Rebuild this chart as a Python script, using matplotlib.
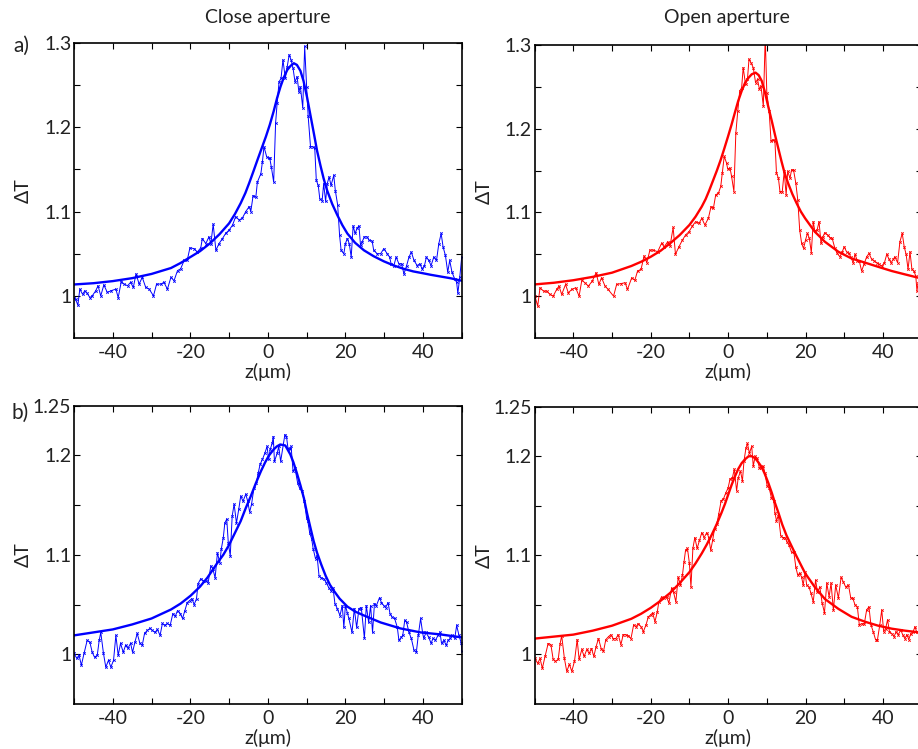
import matplotlib
matplotlib.use("Agg")
import matplotlib.pyplot as plt
from matplotlib.ticker import FixedLocator, FixedFormatter

plt.rcParams['font.family'] = ['Lato', 'DejaVu Sans']

# ---------------- data: a) close aperture (top-left) ----------------
z_tl = [-50.0, -49.6, -49.0, -48.5, -47.8, -47.2, -46.6, -45.9, -45.3, -44.4, -43.8, -43.1, -42.3, -41.4,
        -40.5, -39.2, -38.6, -37.8, -37.1, -36.2, -35.4, -34.7, -34.0, -33.2, -32.4, -31.5, -30.6, -29.5,
        -28.7, -27.6, -26.8, -25.9, -25.0, -24.2, -23.3, -22.5, -21.6, -20.8, -20.1, -19.0, -18.2, -17.3,
        -16.9, -16.0, -15.2, -14.7, -14.1, -13.4, -12.6, -11.7, -10.9, -10.0, -9.1, -8.3, -7.4, -6.6,
        -5.7, -4.8, -4.4, -3.8, -3.1, -2.7, -1.8, -1.4, -1.0, -0.3, 0.3, 0.5, 0.9, 1.5, 2.0, 2.4, 2.9,
        3.4, 3.9, 4.5, 5.0, 5.5, 6.0, 6.5, 7.0, 7.55, 8.0, 8.4, 9.0, 9.5, 10.0, 10.4, 11.0, 11.6, 12.1,
        12.5, 13.0, 13.4, 14.0, 14.4, 14.9, 15.3, 15.8, 16.3, 17.0, 17.4, 18.0, 18.5, 18.9, 19.6, 20.0,
        20.5, 21.0, 21.5, 22.0, 22.5, 23.0, 23.5, 23.9, 24.3, 24.9, 25.6, 26.1, 26.9, 27.3, 28.2, 29.1,
        29.9, 30.8, 31.4, 31.8, 32.5, 33.1, 33.8, 34.5, 35.1, 35.8, 36.4, 37.0, 37.7, 38.5, 39.2, 39.8,
        40.4, 40.9, 41.5, 42.1, 42.8, 43.5, 44.1, 44.7, 45.2, 45.8, 46.4, 46.9, 47.5, 48.2, 48.7, 49.0,
        49.5, 50.0]
dt_tl = [0.998, 0.996, 0.989, 1.008, 1.002, 1.006, 1.003, 0.998, 1.000, 1.006, 1.012, 1.000, 1.013, 1.004,
         1.006, 1.008, 0.998, 1.017, 1.014, 1.012, 1.016, 1.010, 1.026, 1.014, 1.022, 1.010, 1.008, 1.000,
         1.014, 1.014, 1.016, 1.008, 1.022, 1.018, 1.030, 1.032, 1.042, 1.042, 1.057, 1.056, 1.052, 1.057,
         1.068, 1.062, 1.070, 1.062, 1.085, 1.054, 1.062, 1.068, 1.074, 1.078, 1.084, 1.094, 1.090, 1.092,
         1.100, 1.106, 1.100, 1.119, 1.117, 1.135, 1.145, 1.159, 1.177, 1.165, 1.163, 1.163, 1.153, 1.135,
         1.205, 1.229, 1.254, 1.258, 1.280, 1.258, 1.272, 1.286, 1.280, 1.270, 1.254, 1.260, 1.242, 1.248,
         1.223, 1.296, 1.248, 1.213, 1.177, 1.177, 1.175, 1.137, 1.131, 1.115, 1.113, 1.133, 1.112, 1.133,
         1.141, 1.131, 1.143, 1.125, 1.108, 1.072, 1.054, 1.050, 1.062, 1.068, 1.062, 1.046, 1.083, 1.074,
         1.080, 1.083, 1.060, 1.064, 1.070, 1.070, 1.066, 1.065, 1.054, 1.050, 1.050, 1.056, 1.050, 1.046,
         1.038, 1.036, 1.046, 1.038, 1.038, 1.026, 1.036, 1.046, 1.052, 1.042, 1.036, 1.038, 1.032, 1.036,
         1.046, 1.042, 1.036, 1.046, 1.042, 1.062, 1.074, 1.058, 1.048, 1.028, 1.042, 1.028, 1.020, 1.016,
         1.003, 1.022, 1.046]
zf_tl = [-50, -45, -40, -35, -30, -25, -22.5, -20, -17.5, -15, -12.5, -10, -8.5, -7, -5.8, -4.8, -3.7,
         -2.7, -1.6, -0.5, 0.5, 1.5, 2.4, 3.25, 4.1, 5.0, 5.9, 6.7, 7.5, 8.4, 9.2, 10.1, 11.0, 11.9, 12.7,
         13.6, 14.4, 15.3, 16.6, 17.9, 19.2, 20.5, 22.5, 24.8, 27.3, 29.9, 32.5, 35.1, 37.5, 39.8, 42.0,
         44.5, 47.0, 50.0]
fit_tl = [1.0135, 1.015, 1.0175, 1.021, 1.026, 1.033, 1.039, 1.046, 1.053, 1.062, 1.073, 1.086, 1.097,
          1.110, 1.122, 1.134, 1.148, 1.161, 1.175, 1.189, 1.203, 1.219, 1.235, 1.248, 1.259, 1.268, 1.273,
          1.276, 1.274, 1.267, 1.255, 1.236, 1.214, 1.192, 1.172, 1.154, 1.139, 1.125, 1.109, 1.096, 1.084,
          1.074, 1.063, 1.054, 1.047, 1.041, 1.036, 1.032, 1.029, 1.027, 1.025, 1.023, 1.021, 1.018]

# ---------------- data: a) open aperture (top-right) ----------------
z_tr = [-49.9, -49.2, -48.6, -47.7, -46.9, -46.0, -45.2, -44.3, -43.7, -43.0, -42.0, -41.3, -40.4, -39.4,
        -38.5, -37.8, -37.0, -36.1, -35.1, -34.1, -33.4, -32.7, -31.8, -31.0, -29.6, -28.8, -27.7, -26.6,
        -26.0, -24.9, -24.1, -23.4, -22.5, -21.7, -21.0, -20.2, -19.3, -18.2, -17.2, -16.5, -15.6, -15.0,
        -14.2, -13.6, -12.7, -11.8, -11.0, -10.1, -9.2, -8.4, -7.5, -6.8, -6.0, -5.1, -4.4, -3.8, -3.2,
        -2.5, -1.9, -1.5, -1.0, -0.4, -0.1, 0.5, 0.9, 1.5, 2.0, 2.5, 3.0, 3.5, 3.9, 4.5, 5.0, 5.4, 5.9,
        6.5, 7.1, 7.6, 8.1, 8.5, 9.1, 9.6, 10.0, 10.6, 11.1, 11.7, 12.1, 12.5, 13.0, 13.4, 14.0, 14.5,
        15.0, 15.4, 16.0, 16.4, 16.9, 17.5, 18.0, 18.5, 19.0, 19.5, 20.0, 20.5, 21.0, 21.5, 22.0, 22.4,
        23.0, 23.5, 24.0, 24.5, 25.0, 25.7, 26.3, 26.9, 27.6, 28.2, 28.9, 29.5, 30.0, 30.6, 31.2, 31.7,
        32.3, 32.8, 33.4, 33.9, 34.5, 35.1, 35.8, 36.4, 37.1, 37.8, 38.4, 39.0, 39.7, 40.4, 41.0, 41.6,
        42.1, 42.7, 43.1, 43.8, 44.4, 45.0, 45.5, 46.0, 46.5, 47.0, 47.5, 48.0, 48.5, 48.8, 49.1, 49.8]
dt_tr = [1.000, 0.988, 1.010, 1.006, 1.006, 1.002, 1.000, 1.008, 1.012, 1.002, 1.014, 1.004, 1.008, 1.010,
         1.000, 1.019, 1.016, 1.012, 1.018, 1.028, 1.014, 1.022, 1.012, 1.008, 1.000, 1.014, 1.015, 1.016,
         1.008, 1.022, 1.019, 1.030, 1.032, 1.048, 1.040, 1.055, 1.055, 1.053, 1.063, 1.059, 1.065, 1.060,
         1.082, 1.050, 1.059, 1.067, 1.073, 1.077, 1.084, 1.089, 1.087, 1.093, 1.085, 1.093, 1.107, 1.105,
         1.121, 1.123, 1.131, 1.147, 1.167, 1.159, 1.152, 1.153, 1.143, 1.125, 1.195, 1.221, 1.245, 1.249,
         1.273, 1.253, 1.259, 1.283, 1.279, 1.273, 1.255, 1.259, 1.247, 1.251, 1.227, 1.310, 1.243, 1.221,
         1.185, 1.187, 1.185, 1.147, 1.141, 1.125, 1.125, 1.149, 1.121, 1.149, 1.141, 1.151, 1.151, 1.135,
         1.115, 1.079, 1.063, 1.057, 1.067, 1.075, 1.069, 1.052, 1.089, 1.078, 1.079, 1.089, 1.063, 1.071,
         1.076, 1.073, 1.070, 1.069, 1.057, 1.051, 1.047, 1.053, 1.059, 1.053, 1.051, 1.047, 1.040, 1.050,
         1.042, 1.042, 1.030, 1.038, 1.047, 1.051, 1.044, 1.042, 1.040, 1.038, 1.036, 1.040, 1.050, 1.044,
         1.040, 1.044, 1.047, 1.040, 1.065, 1.075, 1.059, 1.050, 1.032, 1.053, 1.032, 1.030, 1.024, 1.006,
         1.016, 0.998]
zf_tr = [-50, -45, -40, -35, -30, -25, -22.5, -20, -17.5, -15, -12.5, -10, -8.4, -6.8, -5.8, -4.9, -3.9,
         -2.9, -1.9, -1.0, 0.0, 0.9, 1.8, 2.6, 3.5, 4.4, 5.3, 6.1, 7.1, 7.9, 8.7, 9.5, 10.4, 11.3, 12.1,
         13.0, 13.8, 14.6, 15.5, 16.6, 17.7, 18.8, 19.9, 22.4, 25.0, 28.5, 31.9, 35.4, 38.8, 42.3, 45.7,
         50.0]
fit_tr = [1.014, 1.016, 1.019, 1.023, 1.028, 1.036, 1.041, 1.047, 1.054, 1.063, 1.073, 1.085, 1.095, 1.107,
          1.116, 1.126, 1.138, 1.150, 1.163, 1.176, 1.191, 1.205, 1.220, 1.233, 1.245, 1.255, 1.261, 1.265,
          1.267, 1.264, 1.257, 1.244, 1.226, 1.209, 1.193, 1.176, 1.161, 1.147, 1.135, 1.122, 1.111, 1.101,
          1.093, 1.077, 1.065, 1.053, 1.045, 1.040, 1.035, 1.030, 1.026, 1.021]

# ---------------- data: b) close aperture (bottom-left) ----------------
z_bl = [-50.0, -49.3, -48.7, -48.1, -47.4, -46.6, -45.9, -45.3, -44.7, -44.0, -43.5, -43.1, -42.4, -41.8,
        -41.1, -40.5, -39.8, -39.2, -38.6, -38.0, -37.3, -36.7, -36.1, -35.4, -34.9, -34.3, -33.7, -33.0,
        -32.4, -31.8, -31.1, -30.4, -29.8, -29.1, -28.5, -27.8, -27.2, -26.6, -25.9, -25.2, -24.5, -23.9,
        -23.3, -22.6, -22.0, -21.4, -20.8, -20.2, -19.6, -19.0, -18.4, -18.0, -17.3, -16.7, -16.0, -15.4,
        -14.7, -14.2, -13.6, -13.0, -12.4, -12.0, -11.5, -11.1, -10.6, -10.2, -9.7, -9.2, -8.7, -8.1,
        -7.5, -7.0, -6.4, -5.7, -5.2, -4.7, -4.2, -3.6, -3.0, -2.5, -2.0, -1.4, -0.8, -0.2, 0.2, 0.6,
        1.1, 1.4, 1.7, 2.4, 2.8, 3.3, 4.4, 4.8, 5.2, 5.7, 6.0, 6.5, 7.0, 7.7, 8.2, 8.8, 9.4, 10.0, 10.3,
        10.8, 11.3, 11.7, 12.3, 12.7, 13.2, 13.7, 14.4, 15.1, 15.7, 16.3, 16.8, 17.3, 17.9, 18.6, 19.2,
        19.6, 20.0, 20.5, 20.9, 21.7, 22.3, 22.9, 23.5, 24.1, 24.9, 25.4, 26.0, 26.5, 27.0, 27.5, 28.0,
        28.8, 29.3, 29.9, 30.4, 31.0, 31.5, 32.1, 32.7, 33.4, 33.8, 34.4, 34.8, 35.3, 35.8, 36.4, 37.0,
        37.7, 38.3, 38.8, 39.4, 39.9, 40.2, 40.8, 41.5, 42.1, 42.6, 43.2, 43.9, 44.4, 44.8, 45.4, 46.0,
        46.5, 47.1, 47.6, 48.2, 48.7, 49.3, 49.9, 50.0]
dt_bl = [1.001, 0.996, 0.999, 0.989, 1.001, 1.014, 1.012, 1.002, 0.997, 0.999, 1.014, 1.022, 1.001, 0.987,
         0.994, 0.987, 0.994, 1.019, 0.999, 1.011, 1.002, 1.009, 1.006, 1.011, 1.002, 1.012, 1.021, 1.011,
         1.009, 1.021, 1.024, 1.026, 1.024, 1.022, 1.025, 1.019, 1.031, 1.029, 1.031, 1.029, 1.041, 1.038,
         1.044, 1.041, 1.036, 1.044, 1.052, 1.054, 1.056, 1.050, 1.056, 1.071, 1.076, 1.074, 1.074, 1.072,
         1.089, 1.086, 1.077, 1.102, 1.092, 1.106, 1.117, 1.132, 1.136, 1.112, 1.099, 1.139, 1.151, 1.132,
         1.146, 1.159, 1.154, 1.161, 1.154, 1.143, 1.151, 1.167, 1.172, 1.182, 1.191, 1.196, 1.202, 1.209,
         1.196, 1.206, 1.212, 1.219, 1.194, 1.202, 1.209, 1.194, 1.221, 1.219, 1.207, 1.206, 1.209, 1.184,
         1.187, 1.172, 1.167, 1.164, 1.154, 1.137, 1.134, 1.122, 1.116, 1.106, 1.096, 1.099, 1.079, 1.077,
         1.076, 1.072, 1.067, 1.064, 1.067, 1.051, 1.046, 1.039, 1.049, 1.027, 1.049, 1.042, 1.036, 1.022,
         1.046, 1.027, 1.046, 1.047, 1.016, 1.049, 1.032, 1.049, 1.022, 1.051, 1.049, 1.057, 1.052, 1.049,
         1.047, 1.052, 1.041, 1.037, 1.036, 1.027, 1.014, 1.017, 1.019, 1.034, 1.032, 1.022, 1.016, 1.004,
         1.002, 1.019, 1.036, 1.022, 1.016, 1.022, 1.017, 1.011, 1.016, 1.014, 1.019, 1.022, 1.011, 1.014,
         1.009, 1.014, 1.016, 1.019, 1.016, 1.029, 1.019, 1.011, 1.003]
zf_bl = [-50, -45, -40, -35, -30, -25, -22.5, -19.9, -17.5, -15.6, -13.0, -11.5, -10.0, -8.5, -7.0, -5.7,
         -4.4, -3.1, -1.8, -0.7, 0.3, 1.5, 2.3, 3.2, 4.5, 5.8, 6.6, 7.5, 8.4, 9.3, 10.1, 11.0, 11.8, 12.7,
         13.8, 14.9, 16.0, 17.0, 18.5, 20.5, 22.5, 24.8, 29.1, 34.2, 39.4, 44.5, 50.0]
fit_bl = [1.019, 1.022, 1.025, 1.030, 1.036, 1.045, 1.051, 1.059, 1.068, 1.077, 1.092, 1.100, 1.110, 1.122,
          1.134, 1.147, 1.159, 1.172, 1.184, 1.193, 1.200, 1.206, 1.209, 1.211, 1.210, 1.201, 1.193, 1.182,
          1.170, 1.157, 1.142, 1.127, 1.114, 1.102, 1.090, 1.079, 1.070, 1.064, 1.056, 1.048, 1.043, 1.039,
          1.032, 1.026, 1.022, 1.020, 1.017]

# ---------------- data: b) open aperture (bottom-right) ----------------
z_br = [-49.9, -49.2, -48.6, -48.0, -47.3, -46.5, -45.8, -45.2, -44.6, -43.9, -43.4, -43.0, -42.3, -41.7,
        -41.0, -40.4, -39.7, -39.0, -38.5, -37.8, -37.2, -36.5, -35.9, -35.3, -34.7, -34.1, -33.5, -32.8,
        -32.2, -31.6, -30.9, -30.3, -29.7, -29.0, -28.4, -27.7, -27.1, -26.5, -25.8, -25.1, -24.4, -23.8,
        -23.2, -22.5, -21.9, -21.2, -20.6, -20.0, -19.5, -18.9, -18.3, -17.9, -17.2, -16.6, -15.9, -15.3,
        -14.6, -14.1, -13.5, -12.9, -12.3, -11.8, -11.4, -11.0, -10.5, -10.0, -9.6, -9.1, -8.6, -8.0,
        -7.4, -6.8, -6.2, -5.5, -5.0, -4.5, -4.0, -3.5, -2.9, -2.4, -1.8, -1.2, -0.6, 0.0, 0.5, 1.1, 1.6,
        2.2, 2.6, 3.2, 3.7, 4.1, 4.6, 5.0, 5.5, 6.1, 6.5, 7.0, 7.5, 8.1, 8.5, 9.1, 9.5, 10.1, 10.6, 11.2,
        11.8, 12.1, 12.5, 13.0, 13.6, 14.1, 14.7, 15.3, 15.8, 16.4, 17.0, 17.5, 18.0, 18.5, 19.0, 19.4,
        19.9, 20.3, 20.9, 21.4, 22.0, 22.6, 23.1, 23.7, 24.3, 24.9, 25.5, 26.1, 26.6, 27.2, 27.8, 28.5,
        29.2, 29.8, 30.4, 31.1, 31.7, 32.2, 32.8, 33.4, 33.9, 34.5, 35.2, 35.8, 36.4, 36.9, 37.5, 38.1,
        38.6, 39.2, 39.7, 40.2, 40.7, 41.2, 41.7, 42.3, 42.9, 43.4, 44.0, 44.6, 45.1, 45.7, 46.2, 46.7,
        47.2, 47.8, 48.3, 48.7, 49.3, 49.9]
dt_br = [0.996, 0.991, 0.996, 0.986, 0.998, 1.011, 1.010, 0.995, 0.993, 0.995, 1.011, 1.019, 0.996, 0.983,
         0.990, 0.983, 0.993, 1.015, 0.995, 1.005, 0.998, 1.005, 1.001, 1.006, 0.998, 1.008, 1.016, 1.006,
         1.003, 1.015, 1.018, 1.020, 1.016, 1.016, 1.020, 1.010, 1.020, 1.020, 1.019, 1.016, 1.030, 1.028,
         1.031, 1.028, 1.023, 1.030, 1.038, 1.040, 1.042, 1.033, 1.043, 1.053, 1.058, 1.057, 1.058, 1.052,
         1.067, 1.063, 1.053, 1.078, 1.070, 1.080, 1.093, 1.105, 1.107, 1.092, 1.068, 1.107, 1.118, 1.107,
         1.115, 1.123, 1.118, 1.123, 1.118, 1.105, 1.115, 1.127, 1.132, 1.142, 1.155, 1.157, 1.163, 1.168,
         1.177, 1.178, 1.187, 1.165, 1.178, 1.185, 1.175, 1.195, 1.208, 1.213, 1.203, 1.210, 1.190, 1.200,
         1.198, 1.188, 1.188, 1.190, 1.183, 1.170, 1.168, 1.158, 1.155, 1.143, 1.135, 1.140, 1.120, 1.118,
         1.118, 1.113, 1.110, 1.103, 1.103, 1.088, 1.080, 1.082, 1.078, 1.070, 1.083, 1.070, 1.068, 1.062,
         1.053, 1.075, 1.063, 1.068, 1.052, 1.042, 1.072, 1.058, 1.072, 1.045, 1.070, 1.057, 1.078, 1.073,
         1.068, 1.070, 1.057, 1.057, 1.050, 1.048, 1.030, 1.031, 1.031, 1.045, 1.048, 1.030, 1.023, 1.015,
         1.015, 1.030, 1.045, 1.023, 1.026, 1.035, 1.023, 1.021, 1.018, 1.023, 1.020, 1.025, 1.020, 1.016,
         1.020, 1.015, 1.021, 1.023, 1.028, 1.023, 1.020, 1.027]
zf_br = [-50, -45, -40, -35, -30, -25, -22.5, -20, -17.5, -15, -12.5, -10, -8.4, -6.8, -5.5, -4.2, -3.0,
         -1.7, -0.8, 0.0, 0.9, 1.8, 2.6, 3.5, 4.4, 5.3, 6.1, 7.0, 7.8, 8.7, 9.5, 10.4, 11.3, 12.1, 13.0,
         14.0, 15.1, 16.2, 17.3, 18.6, 19.9, 22.4, 25.0, 28.5, 31.9, 35.4, 38.8, 42.3, 45.7, 50.0]
fit_br = [1.016, 1.018, 1.020, 1.024, 1.029, 1.036, 1.041, 1.047, 1.054, 1.062, 1.072, 1.083, 1.092, 1.102,
          1.111, 1.121, 1.131, 1.143, 1.152, 1.161, 1.171, 1.180, 1.187, 1.193, 1.197, 1.200, 1.200, 1.198,
          1.194, 1.189, 1.182, 1.173, 1.163, 1.153, 1.143, 1.131, 1.120, 1.111, 1.102, 1.092, 1.082, 1.068,
          1.056, 1.046, 1.038, 1.033, 1.029, 1.026, 1.024, 1.022]

col_titles = ["Close aperture", "Open aperture"]
row_labels = ["a)", "b)"]
xticks = [-50, -40, -30, -20, -10, 0, 10, 20, 30, 40, 50]
xticklabels = ["", "-40", "", "-20", "", "0", "", "20", "", "40", ""]
yticks_top = [1.0, 1.05, 1.1, 1.15, 1.2, 1.25, 1.3]
yticklabels_top = ["1", "", "1.1", "", "1.2", "", "1.3"]
yticks_bot = [1.0, 1.05, 1.1, 1.15, 1.2, 1.25]
yticklabels_bot = ["1", "", "1.1", "", "1.2", "1.25"]

W, H = 918, 749
fig = plt.figure(figsize=(W / 100, H / 100), dpi=100)

def px_axes(x0, y0, x1, y1):
    return fig.add_axes([x0 / W, 1 - y1 / H, (x1 - x0) / W, (y1 - y0) / H])

ax_tl = px_axes(74, 43, 461.7, 338)
ax_tr = px_axes(534.6, 45, 921.6, 338)
ax_bl = px_axes(74, 405.7, 461.7, 704)
ax_br = px_axes(534.6, 406.7, 921.6, 704)

FS = 14
TXT = '#222222'
panels = [
    (ax_tl, z_tl, dt_tl, zf_tl, fit_tl, 'blue', (0.95, 1.3), yticks_top, yticklabels_top),
    (ax_tr, z_tr, dt_tr, zf_tr, fit_tr, 'red', (0.95, 1.3), yticks_top, yticklabels_top),
    (ax_bl, z_bl, dt_bl, zf_bl, fit_bl, 'blue', (0.95, 1.25), yticks_bot, yticklabels_bot),
    (ax_br, z_br, dt_br, zf_br, fit_br, 'red', (0.95, 1.25), yticks_bot, yticklabels_bot),
]
for ax, z, d, zf, f, c, ylim, yt, ytl in panels:
    ax.plot(z, d, '-', color=c, lw=0.7, marker='x', ms=1.8, mew=0.6)
    ax.plot(zf, f, '-', color=c, lw=1.7)
    ax.set_xlim(-50, 50)
    ax.set_ylim(*ylim)
    ax.xaxis.set_major_locator(FixedLocator(xticks))
    ax.xaxis.set_major_formatter(FixedFormatter(xticklabels))
    ax.yaxis.set_major_locator(FixedLocator(yt))
    ax.yaxis.set_major_formatter(FixedFormatter(ytl))
    ax.tick_params(direction='in', length=4, width=0.8, top=True, right=True,
                   labelsize=FS, colors='black', labelcolor=TXT)
    ax.tick_params(axis='x', pad=4)
    ax.tick_params(axis='y', pad=2)
    for s in ax.spines.values():
        s.set_linewidth(1.2)
    h_px = ax.get_position().height * H
    ax.set_xlabel("z(μm)", fontsize=FS, color=TXT, va='top')
    ax.xaxis.set_label_coords(0.5, -24.5 / h_px)
    ax.set_ylabel("ΔT", fontsize=FS, color=TXT)
    ax.yaxis.set_label_coords(-0.109, 0.5)

fig.text(268 / W, 1 - 23 / H, col_titles[0], fontsize=FS, ha='center', va='baseline', color=TXT)
fig.text(727 / W, 1 - 23 / H, col_titles[1], fontsize=FS, ha='center', va='baseline', color=TXT)
fig.text(21.5 / W, 1 - 46 / H, row_labels[0], fontsize=FS + 1, ha='center', va='center', color=TXT)
fig.text(20 / W, 1 - 413 / H, row_labels[1], fontsize=FS + 1, ha='center', va='center', color=TXT)

fig.savefig("out.png", dpi=100)
